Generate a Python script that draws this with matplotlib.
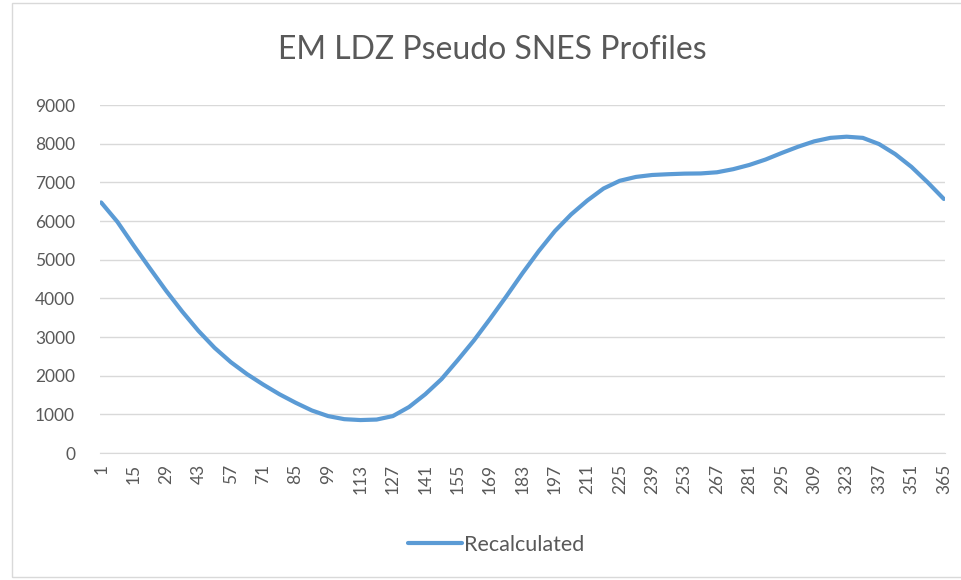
import matplotlib.pyplot as plt
from matplotlib.patches import Rectangle

plt.rcParams['font.family'] = ['Lato', 'DejaVu Sans']

# values, one every 7 days
days = [1, 8, 15, 22, 29, 36, 43, 50, 57, 64, 71, 78, 85, 92, 99, 106, 113,
        120, 127, 134, 141, 148, 155, 162, 169, 176, 183, 190, 197, 204, 211,
        218, 225, 232, 239, 246, 253, 260, 267, 274, 281, 288, 295, 302, 309,
        316, 323, 330, 337, 344, 351, 358, 365]
recalculated = [6480, 5980, 5370, 4780, 4200, 3660, 3160, 2720, 2350, 2040,
                1770, 1520, 1300, 1100, 955, 875, 852, 865, 955, 1190, 1520,
                1910, 2400, 2910, 3470, 4050, 4650, 5220, 5740, 6170, 6530,
                6840, 7040, 7140, 7190, 7210, 7225, 7230, 7260, 7340, 7450,
                7590, 7760, 7920, 8060, 8150, 8180, 8150, 7990, 7730, 7400,
                7000, 6570]
tick_days = list(range(1, 366, 14))

fig = plt.figure(figsize=(9.61, 5.8), dpi=100)
ax = fig.add_axes([100 / 961, 1 - 453 / 580, 845 / 961, 348 / 580])

ax.plot(days, recalculated, color='#5B9BD5', linewidth=3.0,
        solid_capstyle='round', solid_joinstyle='round', label='Recalculated')

ax.set_xlim(0.5, 365.5)
ax.set_ylim(0, 9000)
ax.set_yticks(range(0, 9001, 1000))
ax.set_xticks(tick_days)
ax.set_xticklabels([str(d) for d in tick_days], rotation=90)
ax.tick_params(axis='both', length=0, labelsize=12.5, colors='#595959')
ax.tick_params(axis='y', pad=18)
ax.tick_params(axis='x', pad=8)

ax.grid(axis='y', color='#D9D9D9', linewidth=1)
ax.set_axisbelow(True)
for side in ['top', 'right', 'left']:
    ax.spines[side].set_visible(False)
ax.spines['bottom'].set_color('#D9D9D9')

fig.text(0.512, 1 - 50 / 580, 'EM LDZ Pseudo SNES Profiles', ha='center',
         va='center', fontsize=23, color='#595959')

fig.legend(loc='center', bbox_to_anchor=(0.516, 1 - 545 / 580), frameon=False,
           fontsize=15.5, labelcolor='#595959', handlelength=2.5,
           handletextpad=0.1)

# chart area border
fig.patches.append(Rectangle((12 / 961, 3 / 580), 960 / 961, 574 / 580,
                             transform=fig.transFigure, fill=False,
                             edgecolor='#D9D9D9', linewidth=1))

fig.savefig('out.png', dpi=100)
